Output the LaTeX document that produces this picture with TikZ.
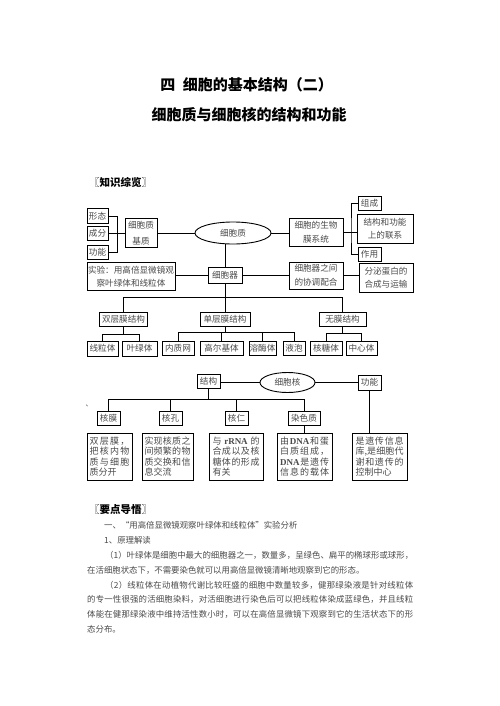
\documentclass[tikz,border=0pt]{standalone}
\usepackage{fontspec}
\setmainfont{Noto Sans CJK SC}
\newfontfamily\lat{Liberation Serif}
\usetikzlibrary{shapes.geometric}
\definecolor{txt}{HTML}{4A4A4A}
\newcommand\bxf{\fontsize{8.6}{11}\selectfont}
\newcommand\lbf{\fontsize{9}{10.3}\selectfont}
\newcommand\pf{\fontsize{8.4}{10}\selectfont}
\def\dl#1#2{{#1}\ifx\relax#2\else\hfill\expandafter\dl\fi{#2}}
\newcommand\dist[2]{\makebox[#1pt][s]{\dl#2\relax}}
\tikzset{
 bx/.style={draw=black, line width=0.9pt, inner sep=0pt, text=txt, font=\bxf, align=center},
 lbx/.style={draw=black, line width=0.9pt, inner sep=0pt, text=txt, font=\lbf, align=left},
 el/.style={ellipse, draw=black, line width=0.9pt, inner sep=0pt, text=txt, font=\bxf},
 sz/.style 2 args={minimum width=#1pt, minimum height=#2pt},
 ln/.style={draw=black, line width=0.8pt},
 ptxt/.style={anchor=base west, inner sep=0pt, text=txt, font=\pf},
 head/.style={anchor=west, inner sep=0pt, font=\fontsize{10.5}{12}\selectfont},
 ttl/.style={inner sep=0pt, font=\fontsize{15}{18}\selectfont\bfseries},
}
\begin{document}
\begin{tikzpicture}[x=1pt,y=-1pt]
\fill[white] (0,0) rectangle (500,706);
\useasboundingbox (0,0) rectangle (500,706);

% titles
\node[ttl] (t1) at (246.5,84.5) {四\hspace{0.5em}细胞的基本结构（二）};
\node[ttl] (t2) at (249,115) {细胞质与细胞核的结构和功能};
\node[head] (h1) at (89,182) {〖{\bfseries 知识综览}〗};

% cytoplasm part
\node[bx, sz={21}{14.5}] (xt) at (97.5,216) {形态};
\node[bx, sz={21}{14}] (cf) at (97.5,233) {成分};
\node[bx, sz={21}{13.5}] (gn) at (97.5,252.5) {功能};
\coordinate (bk) at (117,233);
\draw[ln] (xt.east) -| (bk);
\draw[ln] (gn.east) -| (bk);
\node[bx, sz={32}{29}] (jz) at (141,233) {细胞质\\[5.5pt]基质};
\draw[ln] (cf.east) -- (jz.west);
\node[el, sz={76}{22}] (xbz) at (233,233) {细胞质};
\draw[ln] (jz.east) -- (xbz.west);
\node[bx, sz={54}{28}] (smx) at (316,232) {细胞的生物\\[3.5pt]膜系统};
\draw[ln] (xbz.east) -- (xbz.east -| smx.west);
\node[bx, sz={23}{13.5}] (zc) at (369.5,203.5) {组成};
\node[bx, sz={56}{29}] (lx) at (385,229) {结构和功能\\[2pt]上的联系};
\node[bx, sz={23}{13.5}] (zy) at (369.5,254.5) {作用};
\coordinate (jb) at (351,232);
\draw[ln] (smx.east) -- (smx.east -| lx.west);
\draw[ln] (zc.west) -| (jb) |- (zy.west);

\node[bx, sz={34}{16}] (qg) at (225,275) {细胞器};
\draw[ln] (xbz.south -| qg.north) -- (qg.north);
\node[bx, sz={88}{28}] (sy) at (131,276.5) {实验：用高倍显微镜观\\[2.5pt]察叶绿体和线粒体};
\draw[ln] (sy.east |- qg.west) -- (qg.west);
\node[bx, sz={54}{27}] (xt2) at (316,275.5) {细胞器之间\\[3pt]的协调配合};
\draw[ln] (qg.east) -- (qg.east -| xt2.west);
\node[bx, sz={54}{29}] (fm) at (386,277.5) {分泌蛋白的\\[2.5pt]合成与运输};
\draw[ln] (xt2.east |- qg.east) -- (qg.east -| fm.west);

\coordinate (b1) at (0,297);
\node[bx, sz={48}{14.5}] (scm) at (123.5,319.5) {双层膜结构};
\node[bx, sz={50}{14.5}] (dan) at (225,319.5) {单层膜结构};
\node[bx, sz={47}{14}] (wum) at (342.5,319) {无膜结构};
\draw[ln] (qg.south) -- (dan.north);
\draw[ln] (scm.north) -- (scm.north |- b1) -- (wum.north |- b1) -- (wum.north);

\node[bx, sz={31}{15}] (xlt) at (102.5,348.5) {线粒体};
\node[bx, sz={35}{15}] (ylt) at (139.5,348.5) {叶绿体};
\coordinate (b2) at (0,334);
\draw[ln] (scm.south) -- (scm.south |- b2);
\draw[ln] (xlt.north) -- (xlt.north |- b2) -- (ylt.north |- b2) -- (ylt.north);

\node[bx, sz={32}{14}] (nzw) at (178,348) {内质网};
\node[bx, sz={43}{14}] (gej) at (221.5,348) {高尔基体};
\node[bx, sz={27}{14}] (rmt) at (262.5,348) {溶酶体};
\node[bx, sz={22}{14}] (yp) at (294,348) {液泡};
\coordinate (b3) at (0,332);
\draw[ln] (dan.south) -- (dan.south |- b3);
\draw[ln] (nzw.north) -- (nzw.north |- b3) -- (yp.north |- b3) -- (yp.north);
\draw[ln] (gej.north) -- (gej.north |- b3);
\draw[ln] (rmt.north) -- (rmt.north |- b3);

\node[bx, sz={32}{14}] (htt) at (326,348) {核糖体};
\node[bx, sz={31}{14}] (zxt) at (361.5,348) {中心体};
\coordinate (b4) at (0,333.5);
\draw[ln] (wum.south) -- (wum.south |- b4);
\draw[ln] (htt.north) -- (htt.north |- b4) -- (zxt.north |- b4) -- (zxt.north);

% nucleus part
\node[bx, sz={23}{13.5}] (jg) at (208.5,381.5) {结构};
\node[el, sz={55}{20}] (hx) at (287.5,382.5) {细胞核};
\node[bx, sz={23}{15}] (gn2) at (369.5,382.5) {功能};
\draw[ln] (jg.east |- hx.west) -- (hx.west);
\draw[ln] (hx.east) -- (hx.east -| gn2.west);

\node[inner sep=0pt, text=txt, font=\fontsize{7}{8}\selectfont] (dun) at (89,406) {、};

\coordinate (b5) at (0,399.5);
\node[bx, sz={23}{13.5}] (hm) at (108.5,418.5) {核膜};
\node[bx, sz={23}{13.5}] (hk) at (170.5,418.5) {核孔};
\node[bx, sz={23}{13.5}] (hr) at (236.5,418.5) {核仁};
\node[bx, sz={32}{13.5}] (rs) at (304,418.5) {染色质};
\draw[ln] (jg.south) -- (jg.south |- b5);
\draw[ln] (hm.north) -- (hm.north |- b5) -- (rs.north |- b5) -- (rs.north);
\draw[ln] (hk.north) -- (hk.north |- b5);
\draw[ln] (hr.north) -- (hr.north |- b5);

\node[lbx, sz={45}{47}] (d1) at (109.5,456.5) {\dist{40}{双层膜，}\\\dist{40}{把核内物}\\\dist{40}{质与细胞}\\质分开};
\node[lbx, sz={51}{47}] (d2) at (167.5,456.5) {\dist{46}{实现核质之}\\\dist{46}{间频繁的物}\\\dist{46}{质交换和信}\\息交流};
\node[lbx, sz={54}{47}] (d3) at (236,456.5) {\dist{47}{与{\lat\bfseries rRNA}的}\\\dist{47}{合成以及核}\\\dist{47}{糖体的形成}\\有关};
\node[lbx, sz={55}{47}] (d4) at (304.5,456.5) {\dist{49}{由{\lat\bfseries DNA}和蛋}\\\dist{49}{白质组成，}\\\dist{49}{{\lat\bfseries DNA}是遗传}\\\dist{49}{信息的载体}};
\node[lbx, sz={55}{47}] (d5) at (379.5,456.5) {\dist{48}{是遗传信息}\\\dist{48}{库,是细胞代}\\\dist{48}{谢和遗传的}\\控制中心};
\draw[ln] (rs.south) -- (rs.south |- d4.north);
\draw[ln] (gn2.south) -- (gn2.south |- d5.north);

% second section
\node[head] (h2) at (89,510) {〖{\bfseries 要点导悟}〗};
\node[ptxt] (p1) at (104,528.2) {一、“用高倍显微镜观察叶绿体和线粒体”实验分析};
\node[ptxt] (p2) at (104,543.7) {1、原理解读};
\node[ptxt] (p3) at (105,558.2) {\dist{308}{（1）叶绿体是细胞中最大的细胞器之一，数量多，呈绿色、扁平的椭球形或球形，}};
\node[ptxt] (p4) at (87,573.1) {在活细胞状态下，不需要染色就可以用高倍显微镜清晰地观察到它的形态。};
\node[ptxt] (p5) at (105,588) {\dist{308}{（2）线粒体在动植物代谢比较旺盛的细胞中数量较多，健那绿染液是针对线粒体}};
\node[ptxt] (p6) at (87,602.9) {\dist{326}{的专一性很强的活细胞染料，对活细胞进行染色后可以把线粒体染成蓝绿色，并且线粒}};
\node[ptxt] (p7) at (87,617.8) {\dist{326}{体能在健那绿染液中维持活性数小时，可以在高倍显微镜下观察到它的生活状态下的形}};
\node[ptxt] (p8) at (87,632.7) {态分布。};
\end{tikzpicture}
\end{document}
